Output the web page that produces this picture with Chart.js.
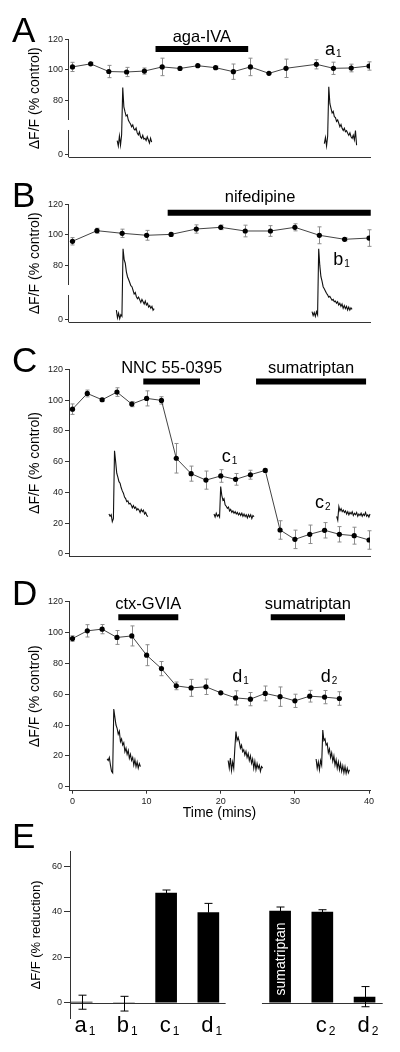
<!DOCTYPE html>
<html>
<head>
<meta charset="utf-8">
<script src="https://cdn.jsdelivr.net/npm/chart.js@4/dist/chart.umd.min.js"></script>
<style>
body { margin: 0; background: #fff; width: 400px; height: 1052px; position: relative; overflow: hidden; }
canvas { position: absolute; left: 0; }
</style>
</head>
<body>
<canvas id="cA" width="400" height="165" style="top:0px"></canvas>
<canvas id="cB" width="400" height="165" style="top:165px"></canvas>
<canvas id="cC" width="400" height="235" style="top:330px"></canvas>
<canvas id="cD" width="400" height="257" style="top:565px"></canvas>
<canvas id="cE" width="400" height="232" style="top:820px"></canvas>
<script>
"use strict";
const FONT = '"Liberation Sans", Arial, Helvetica, sans-serif';
Chart.defaults.font.family = FONT;

const TRACE_STEP = 0.15; // minutes between trace samples

// Panel A: aga-IVA
const timesA = [0, 2.45, 4.9, 7.3, 9.7, 12.1, 14.5, 16.9, 19.3, 21.7, 24.0, 26.5, 28.8, 32.9, 35.2, 37.6, 40];
const valuesA = [102, 104, 99, 98.7, 99.3, 102, 101, 102.8, 101.5, 98.9, 102, 97.8, 101.1, 103.7, 101.1, 101.3, 102.6];
const errorsA = [3, 1, 4, 3, 2, 5.7, 0, 0.5, 1, 5, 5.7, 0, 6, 3, 4, 2.5, 2.7];
const traceA1Start = 6.03;
const traceA1 = [54, 50.5, 57, 51, 58, 88.5, 76, 72.8, 70, 70.7, 67.4, 66, 64.8, 63, 64.2, 61.6, 60.9, 62.2, 59, 57.7, 59.6, 56.4, 55.5, 57.5, 55, 55.5, 54, 56.5, 54.5, 52.4, 55.5, 53];
const traceA2Start = 33.97;
const traceA2 = [52, 56, 50.5, 57, 89, 78, 75, 72, 73, 69.6, 69, 66.5, 67.5, 65.3, 63, 64.5, 62, 60.5, 62, 59.8, 60.5, 58.8, 57.5, 59, 56.5, 55.5, 57.5, 54.5, 60.5, 51];

// Panel B: nifedipine
const timesB = [0, 3.3, 6.7, 10, 13.3, 16.7, 20, 23.3, 26.7, 30, 33.3, 36.7, 40];
const valuesB = [95.9, 102.8, 101.1, 99.8, 100.4, 103.9, 105, 102.6, 102.6, 105, 99.8, 97.2, 98];
const errorsB = [2.4, 1.6, 2.7, 3.2, 1, 2.7, 1.5, 3.8, 3.5, 2.3, 5.5, 1, 5.4];
const traceB1Start = 5.92;
const traceB1 = [51, 46, 49, 45.5, 48, 47, 91, 84, 81.6, 76, 72.8, 71, 69, 67, 66.3, 64, 61.5, 62.5, 59.8, 58.5, 59.5, 57.7, 56, 58, 56.5, 55, 57, 54.4, 55.5, 53, 54, 52.2, 53.5, 51, 52];
const traceB2Start = 32.31;
const traceB2 = [50, 47.5, 49.5, 47, 50, 48, 91, 80, 72.8, 70, 66.3, 65, 63.5, 62, 61, 59.5, 60, 58.8, 57.5, 58, 56.5, 57, 55.5, 56.5, 54.4, 55.5, 53.5, 55, 52.2, 54, 52, 53.5, 51.1, 53, 51, 52.5, 51.5];

// Panel C: NNC 55-0395 then sumatriptan
const timesC = [0, 2, 4, 6, 8, 10, 12, 14, 16, 18, 20, 22, 24, 26, 28, 30, 32, 34, 36, 38, 40];
const valuesC = [94.1, 104.3, 100.2, 105.2, 97.4, 101.1, 99.8, 62.2, 52.2, 48, 50.7, 48.5, 51.5, 54.3, 15.6, 9.5, 12.8, 15.4, 12.8, 11.9, 9.1];
const errorsC = [3.4, 2.2, 1, 2.8, 1.7, 4.9, 2.4, 9.6, 4.9, 5.9, 4.1, 3.8, 2.9, 1, 6, 6, 6, 5, 5, 5.5, 6];
const traceC1Start = 4.92;
const traceC1 = [26, 24.5, 25.5, 21, 23, 67, 60, 52.5, 50, 47, 46, 43, 41, 39.5, 37, 36, 34, 34.5, 32.5, 33, 31.9, 30, 31.5, 29.7, 30.5, 28.5, 29.5, 28.6, 27, 29, 27.5, 28.5, 26, 27, 25, 24.3];
const traceC2Start = 19.09;
const traceC2 = [26, 24, 26.5, 24.5, 25.5, 24, 43.8, 38, 35, 36, 32, 31, 29.7, 30.5, 28, 29, 27, 28, 26.5, 27.5, 26, 27, 25.4, 26.5, 25, 26.5, 24.5, 26, 24.3, 25.5, 23.5, 25.5, 24, 25.5, 23, 25, 24.3];
const traceC3Start = 35.63;
const traceC3 = [24.5, 22, 30.8, 28, 29.5, 27.5, 28.5, 27, 28, 26, 27.5, 25.5, 27, 26, 27.5, 25, 26.5, 25.5, 27, 24.5, 26, 25, 26.5, 24.5, 26, 25, 27, 24.5, 25.5, 24, 26, 24.5, 25.5, 24, 25.5, 24.5];

// Panel D: ctx-GVIA then sumatriptan
const timesD = [0, 2, 4, 6, 8, 10, 12, 14, 16, 18, 20, 22, 24, 26, 28, 30, 32, 34, 36];
const valuesD = [96.1, 101.1, 102.2, 96.8, 97.8, 85.3, 76.6, 65.4, 64.1, 64.8, 60.9, 57.6, 56.8, 60.5, 58.4, 55.7, 58.7, 58.1, 57.2];
const errorsD = [1.8, 4, 3, 4.5, 6.5, 6.8, 4.6, 2.5, 5.5, 5, 0, 4.6, 4.3, 4.8, 6.3, 4.3, 3.8, 4.3, 4.4];
const traceD1Start = 4.67;
const traceD1 = [18, 17, 19, 14, 10, 9, 50.4, 45, 40, 37.9, 34, 36, 29.2, 31, 27, 28.5, 22.7, 25, 21, 23.5, 18.4, 21, 17, 19, 14, 17.5, 13, 16, 12, 15, 13];
const traceD2Start = 21.0;
const traceD2 = [17, 12, 18.6, 10.5, 16, 12, 25, 35.7, 30, 32, 29.2, 25, 27, 22.7, 24, 20.6, 23, 19, 21.5, 17, 20, 15.2, 18, 12, 16.5, 11, 15, 11.9, 14, 10, 13, 12];
const traceD3Start = 32.86;
const traceD3 = [18, 12, 16, 11, 17, 14, 36.8, 30, 31, 27, 28, 22, 24.5, 19, 22, 16.5, 20, 14, 17.5, 12, 16, 11, 15, 10, 13.5, 9, 13, 8.7, 12, 9, 11];

// Panel E: % reduction summary
const barNames = ['a1', 'b1', 'c1', 'd1', 'sumatriptan', 'c2', 'd2'];
const barSlots = [0, 1, 2, 3, 4.7, 5.7, 6.7];
const barValues = [0.3, -0.4, 48.3, 39.7, 40.4, 40, 2.5];
const barErrUp = [3, 3.2, 1.4, 4.1, 1.8, 1, 4.6];
const barErrDown = [3.2, 3.3, 0, 0, 0, 0, 4.3];

const tracePoints = (start, vals) => vals.map((v, i) => ({ x: start + i * TRACE_STEP, y: v }));

const decor = p => ({
    id: 'decor',
    beforeDatasetsDraw(chart)
    {
        const { ctx, scales: { y } } = chart;
        const pts = chart.getDatasetMeta(0).data;
        ctx.save();
        ctx.strokeStyle = '#8c8c8c';
        ctx.lineWidth = 1;
        p.errors.forEach((e, i) =>
        {
            if (!e) return;
            const px = Math.round(pts[i].x) + 0.5;
            const top = y.getPixelForValue(p.values[i] + e), bot = y.getPixelForValue(p.values[i] - e);
            ctx.beginPath();
            ctx.moveTo(px, top); ctx.lineTo(px, bot);
            ctx.moveTo(px - 2, top); ctx.lineTo(px + 2, top);
            ctx.moveTo(px - 2, bot); ctx.lineTo(px + 2, bot);
            ctx.stroke();
        });
        ctx.restore();
    },
    afterDraw(chart)
    {
        const { ctx, chartArea, scales: { x, y } } = chart;
        ctx.save();
        // y axis line, broken when the panel needs it
        ctx.strokeStyle = '#333';
        ctx.lineWidth = 1;
        if (p.yBreak)
        {
            const ax = Math.round(chartArea.left) - 0.5;
            ctx.beginPath();
            ctx.moveTo(ax, chartArea.top); ctx.lineTo(ax, y.getPixelForValue(p.yBreak[0]));
            ctx.moveTo(ax, y.getPixelForValue(p.yBreak[1])); ctx.lineTo(ax, chartArea.bottom);
            ctx.stroke();
        }
        ctx.fillStyle = '#000';
        ctx.textBaseline = 'alphabetic';
        // panel letter
        ctx.font = `35px ${FONT}`;
        ctx.textAlign = 'left';
        ctx.fillText(p.letter, 12, p.letterBaseline);
        // drug names above bars
        ctx.font = `16.5px ${FONT}`;
        ctx.textAlign = 'center';
        p.drugs.forEach(d =>
        {
            const cx = x.getPixelForValue(d.labelAt ?? (d.from + d.to) / 2);
            ctx.fillText(d.name, cx, y.getPixelForValue(p.drugLevel) - p.drugLabelGap);
        });
        // subscripted trace labels
        ctx.textAlign = 'left';
        p.marks.forEach(m =>
        {
            const px = x.getPixelForValue(m.t), py = y.getPixelForValue(m.v);
            ctx.font = `18px ${FONT}`;
            ctx.fillText(m.main, px, py);
            const w = ctx.measureText(m.main).width;
            ctx.font = `10px ${FONT}`;
            ctx.fillText(m.sub, px + w + 1, py + 2);
        });
        ctx.restore();
    }
});

const timePanel = (id, p) => new Chart(document.getElementById(id), {
    type: 'line',
    data: {
        datasets: [
            {
                data: p.times.map((t, i) => ({ x: t, y: p.values[i] })),
                borderColor: '#444', borderWidth: 1,
                pointRadius: 2.6, pointBackgroundColor: '#000', pointBorderWidth: 0
            },
            ...p.traces.map(([start, vals]) => ({
                data: tracePoints(start, vals),
                borderColor: '#111', borderWidth: 1.1, pointRadius: 0, clip: false
            })),
            ...p.drugs.map(d => ({
                data: [{ x: d.from, y: p.drugLevel }, { x: d.to, y: p.drugLevel }],
                borderColor: '#000', borderWidth: 6, borderCapStyle: 'butt', pointRadius: 0, clip: false
            }))
        ]
    },
    options: {
        responsive: false,
        animation: false,
        events: [],
        layout: { padding: { left: 0, right: 30, top: p.top, bottom: 0 } },
        plugins: { legend: { display: false }, tooltip: { enabled: false } },
        scales: {
            x: {
                type: 'linear', min: -0.47, max: 40.13,
                border: { display: true, color: '#333', width: 1 },
                grid: { display: !!p.xTicks, drawOnChartArea: false, drawTicks: true, tickLength: 3, tickColor: '#333', color: '#333' },
                ticks: { display: !!p.xTicks, font: { size: 9 }, color: '#222', padding: 2, maxRotation: 0 },
                title: { display: !!p.xTitle, text: p.xTitle || '', font: { size: 14 }, color: '#000', padding: { top: 0, bottom: 0 } },
                afterBuildTicks: s => { if (p.xTicks) s.ticks = p.xTicks.map(v => ({ value: v })); },
                afterFit: s => { s.height = p.xAxisHeight; }
            },
            y: {
                type: 'linear', min: p.yMin, max: 120,
                border: { display: !p.yBreak, color: '#333', width: 1 },
                grid: { drawOnChartArea: false, drawTicks: true, tickLength: 4, tickColor: '#333', color: '#333' },
                ticks: { font: { size: 9 }, color: '#222', padding: 2, callback: (v, i) => p.yTickLabels[i] },
                title: { display: true, text: 'ΔF/F (% control)', font: { size: 14 }, color: '#000', padding: { top: 26.6, bottom: 0 } },
                afterBuildTicks: s => { s.ticks = p.yTicks.map(v => ({ value: v })); },
                afterFit: s => { s.width = 69; }
            }
        }
    },
    plugins: [decor(p)]
});

const fullTicks = [0, 20, 40, 60, 80, 100, 120];

timePanel('cA', {
    letter: 'A', letterBaseline: 41.7, top: 39.3, xAxisHeight: 7.7,
    times: timesA, values: valuesA, errors: errorsA,
    traces: [[traceA1Start, traceA1], [traceA2Start, traceA2]],
    yMin: 43.1, yTicks: [44.6, 80, 100, 120], yTickLabels: ['0', '80', '100', '120'], yBreak: [67.4, 60.9],
    drugLevel: 113.7, drugLabelGap: 7.3,
    drugs: [{ name: 'aga-IVA', from: 11.2, to: 23.7 }],
    marks: [{ main: 'a', sub: '1', t: 34.06, v: 109.8 }]
});

timePanel('cB', {
    letter: 'B', letterBaseline: 41.7, top: 39.3, xAxisHeight: 7.7,
    times: timesB, values: valuesB, errors: errorsB,
    traces: [[traceB1Start, traceB1], [traceB2Start, traceB2]],
    yMin: 43.1, yTicks: [44.6, 80, 100, 120], yTickLabels: ['0', '80', '100', '120'], yBreak: [67.4, 60.9],
    drugLevel: 114.5, drugLabelGap: 10.4,
    drugs: [{ name: 'nifedipine', from: 12.84, to: 40.23, labelAt: 25.3 }],
    marks: [{ main: 'b', sub: '1', t: 35.18, v: 80.5 }]
});

timePanel('cC', {
    letter: 'C', letterBaseline: 41.7, top: 39.3, xAxisHeight: 8.3,
    times: timesC, values: valuesC, errors: errorsC,
    traces: [[traceC1Start, traceC1], [traceC2Start, traceC2], [traceC3Start, traceC3]],
    yMin: -1.76, yTicks: fullTicks, yTickLabels: fullTicks.map(String),
    drugLevel: 112.1, drugLabelGap: 8.4,
    drugs: [{ name: 'NNC 55-0395', from: 9.55, to: 17.2 }, { name: 'sumatriptan', from: 24.76, to: 39.6 }],
    marks: [{ main: 'c', sub: '1', t: 20.13, v: 60 }, { main: 'c', sub: '2', t: 32.71, v: 29.7 }]
});

timePanel('cD', {
    letter: 'D', letterBaseline: 40, top: 36.7, xAxisHeight: 31.3,
    xTicks: [0, 10, 20, 30, 40], xTitle: 'Time (mins)',
    times: timesD, values: valuesD, errors: errorsD,
    traces: [[traceD1Start, traceD1], [traceD2Start, traceD2], [traceD3Start, traceD3]],
    yMin: -2.6, yTicks: fullTicks, yTickLabels: fullTicks.map(String),
    drugLevel: 109.9, drugLabelGap: 8,
    drugs: [{ name: 'ctx-GVIA', from: 6.18, to: 14.27 }, { name: 'sumatriptan', from: 26.74, to: 36.76 }],
    marks: [{ main: 'd', sub: '1', t: 21.56, v: 68.1 }, { main: 'd', sub: '2', t: 33.48, v: 68.1 }]
});

// Panel E
const barDecor = {
    id: 'barDecor',
    afterDatasetsDraw(chart)
    {
        const { ctx, chartArea, scales: { x, y } } = chart;
        const bars = chart.getDatasetMeta(0).data;
        ctx.save();
        // zero line, interrupted between the two groups
        ctx.strokeStyle = '#333';
        ctx.lineWidth = 1;
        const zy = Math.round(y.getPixelForValue(0)) + 0.5;
        ctx.beginPath();
        ctx.moveTo(x.getPixelForValue(-0.277), zy); ctx.lineTo(x.getPixelForValue(3.41), zy);
        ctx.moveTo(x.getPixelForValue(4.27), zy); ctx.lineTo(x.getPixelForValue(7.13), zy);
        ctx.stroke();
        // error bars
        ctx.strokeStyle = '#000';
        barValues.forEach((v, i) =>
        {
            const px = Math.round(bars[i].x) + 0.5;
            const top = y.getPixelForValue(v + barErrUp[i]);
            const bot = y.getPixelForValue(v - barErrDown[i]);
            ctx.beginPath();
            ctx.moveTo(px, top); ctx.lineTo(px, bot);
            ctx.moveTo(px - 4, top); ctx.lineTo(px + 4, top);
            if (barErrDown[i]) { ctx.moveTo(px - 4, bot); ctx.lineTo(px + 4, bot); }
            ctx.stroke();
        });
        // label written inside the sumatriptan bar
        const si = barNames.indexOf('sumatriptan');
        ctx.save();
        ctx.translate(bars[si].x, y.getPixelForValue(19.3));
        ctx.rotate(-Math.PI / 2);
        ctx.fillStyle = '#fff';
        ctx.font = `14px ${FONT}`;
        ctx.textAlign = 'center';
        ctx.textBaseline = 'middle';
        ctx.fillText('sumatriptan', 0, 1);
        ctx.restore();
        // category labels with subscripts
        ctx.fillStyle = '#000';
        ctx.textBaseline = 'alphabetic';
        barNames.forEach((n, i) =>
        {
            if (n.length !== 2) return;
            const px = bars[i].x - 1, py = chartArea.bottom + 14;
            ctx.font = `22px ${FONT}`;
            ctx.textAlign = 'center';
            ctx.fillText(n[0], px, py);
            const w = ctx.measureText(n[0]).width;
            ctx.font = `12px ${FONT}`;
            ctx.textAlign = 'left';
            ctx.fillText(n[1], px + w / 2 + 2, py + 3);
        });
        // panel letter
        ctx.font = `35px ${FONT}`;
        ctx.fillText('E', 12, 28.3);
        ctx.restore();
    }
};

new Chart(document.getElementById('cE'), {
    type: 'bar',
    data: {
        datasets: [{
            data: barSlots.map((s, i) => ({ x: s, y: barValues[i] })),
            backgroundColor: '#000',
            barThickness: 21
        }]
    },
    options: {
        responsive: false,
        animation: false,
        events: [],
        layout: { padding: { left: 0, right: 17.3, top: 31.7, bottom: 33.7 } },
        plugins: { legend: { display: false }, tooltip: { enabled: false } },
        scales: {
            x: { type: 'linear', min: -0.277, max: 7.13, offset: false, display: false },
            y: {
                type: 'linear', min: -6.9, max: 66.6,
                border: { display: true, color: '#333', width: 1 },
                grid: { drawOnChartArea: false, drawTicks: true, tickLength: 6, tickColor: '#333', color: '#333' },
                ticks: { font: { size: 9 }, color: '#222', padding: 2 },
                title: { display: true, text: 'ΔF/F (% reduction)', font: { size: 13 }, color: '#000', padding: { top: 28.9, bottom: 0 } },
                afterBuildTicks: s => { s.ticks = [0, 20, 40, 60].map(v => ({ value: v })); },
                afterFit: s => { s.width = 70; }
            }
        }
    },
    plugins: [barDecor]
});
</script>
</body>
</html>
